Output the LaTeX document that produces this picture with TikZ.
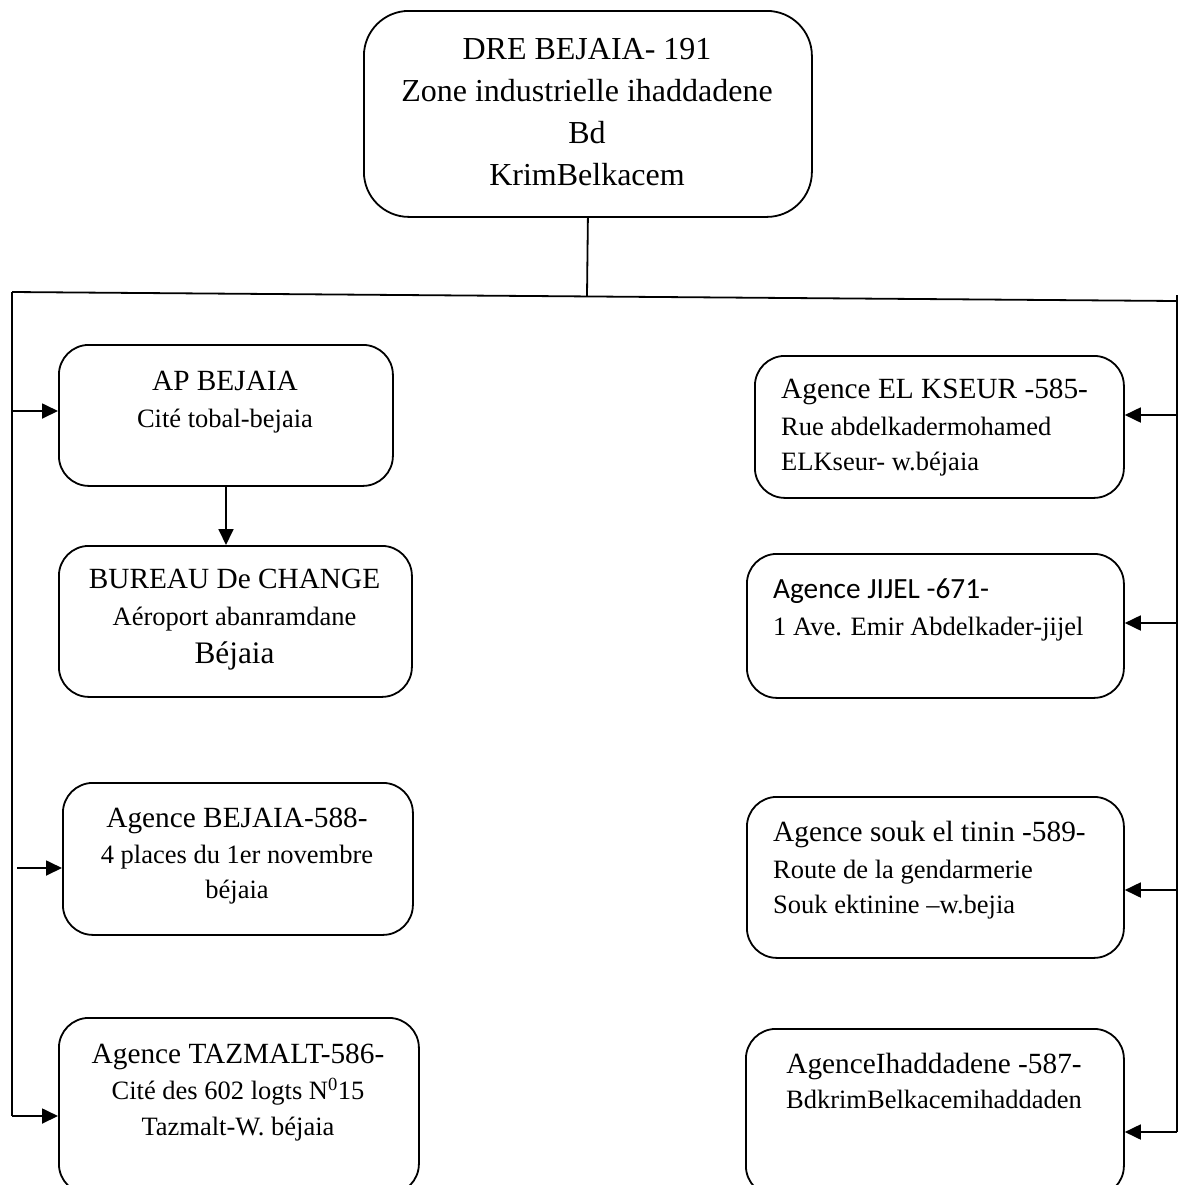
\documentclass[tikz,border=0pt]{standalone}
\usepackage{fontspec}
\setmainfont{Liberation Serif}
\newfontfamily\calibrifont{Carlito}
\usetikzlibrary{arrows.meta,calc}

\newcommand{\titlesize}{\fontsize{29.3bp}{36bp}\selectfont}
\newcommand{\subsize}{\fontsize{26.5bp}{36bp}\selectfont}
\newcommand{\bigsize}{\fontsize{31.3bp}{38bp}\selectfont}

\begin{document}
\begin{tikzpicture}[x=1bp,y=-1bp,
  card/.style={draw,line width=1.8bp,rounded corners=30bp,inner sep=0pt,anchor=north west},
  wire/.style={line width=1.8bp},
  feed/.style={line width=1.8bp,-{Triangle[length=16bp,width=15bp]}},
  txt/.style={inner sep=0pt,anchor=base}]
\useasboundingbox (0,0) rectangle (1186,1185);
\clip (0,0) rectangle (1186,1185);

% head office
\node[card,rounded corners=45bp,minimum width=448bp,minimum height=206bp] (top) at (363,10) {};
\node[txt] (topA) at (587,59) {\fontsize{32bp}{42bp}\selectfont DRE BEJAIA- 191};
\node[txt] (topB) at (587,101) {\fontsize{32bp}{42bp}\selectfont Zone industrielle ihaddadene};
\node[txt] (topC) at (587,143) {\fontsize{32bp}{42bp}\selectfont Bd};
\node[txt] (topD) at (587,185) {\fontsize{32bp}{42bp}\selectfont KrimBelkacem};

% left column
\node[card,minimum width=334bp,minimum height=141bp] (ap) at (58,344) {};
\node[txt] (apA) at (225,390) {\titlesize AP BEJAIA};
\node[txt] (apB) at (225,427) {\subsize Cité tobal-bejaia};

\node[card,minimum width=353bp,minimum height=151bp] (bur) at (58,545) {};
\node[txt] (burA) at (234.5,588) {\titlesize BUREAU De CHANGE};
\node[txt] (burB) at (234.5,625) {\subsize Aéroport abanramdane};
\node[txt] (burC) at (234.5,663) {\bigsize Béjaia};

\node[card,minimum width=350bp,minimum height=152bp] (bej) at (62,782) {};
\node[txt] (bejA) at (237,827) {\titlesize Agence BEJAIA-588-};
\node[txt] (bejB) at (237,863) {\subsize 4 places du 1er novembre};
\node[txt] (bejC) at (237,898) {\subsize béjaia};

\node[card,minimum width=360bp,minimum height=176bp] (taz) at (58,1017) {};
\node[txt] (tazA) at (238,1063) {\titlesize Agence TAZMALT-586-};
\node[txt] (tazB) at (238,1099) {\subsize Cité des 602 logts N\textsuperscript{0}15};
\node[txt] (tazC) at (238,1135) {\subsize Tazmalt-W. béjaia};

% right column
\node[card,minimum width=369bp,minimum height=142bp] (ksr) at (754,355) {};
\node[txt,anchor=base west] (ksrA) at (781,398) {\titlesize Agence EL KSEUR -585-};
\node[txt,anchor=base west] (ksrB) at (781,435) {\subsize Rue abdelkadermohamed};
\node[txt,anchor=base west] (ksrC) at (781,470) {\subsize ELKseur- w.béjaia};

\node[card,minimum width=377bp,minimum height=144bp] (jij) at (746,553) {};
\node[txt,anchor=base west] (jijA) at (773,598) {\calibrifont\titlesize Agence JIJEL -671-};
\node[txt,anchor=base west] (jijB) at (773,635) {\subsize 1 Ave. Emir Abdelkader-jijel};

\node[card,minimum width=377bp,minimum height=161bp] (souk) at (746,796) {};
\node[txt,anchor=base west] (soukA) at (773,841) {\titlesize Agence souk el tinin -589-};
\node[txt,anchor=base west] (soukB) at (773,878) {\subsize Route de la gendarmerie};
\node[txt,anchor=base west] (soukC) at (773,913) {\subsize Souk ektinine –w.bejia};

\node[card,minimum width=378bp,minimum height=167bp] (ihd) at (745,1028) {};
\node[txt] (ihdA) at (934,1073) {\titlesize AgenceIhaddadene -587-};
\node[txt] (ihdB) at (934,1108) {\subsize BdkrimBelkacemihaddaden};

% distribution bus
\coordinate (busL) at (12,292);
\coordinate (busR) at (1177,301);
\coordinate (busM) at (587,296);
\coordinate (leftEnd) at (12,1116);
\coordinate (rightTop) at (1177,295);
\coordinate (rightEnd) at (1177,1132);

\draw[wire] (top.south) -- (busM);
\draw[wire] (busL) -- (busR);
\draw[wire] (busL) -- (leftEnd);
\draw[wire] (rightTop) -- (rightEnd);

% feeders, left side
\draw[feed] (12,411) -- (ap.west |- 0,411);
\draw[feed] (17,868) -- (bej.west |- 0,868);
\draw[feed] (leftEnd) -- (taz.west |- leftEnd);
\draw[feed] (ap.south -| 226,0) -- (bur.north -| 226,0);

% feeders, right side
\draw[feed] (1177,415) -- (ksr.east |- 0,415);
\draw[feed] (1177,623) -- (jij.east |- 0,623);
\draw[feed] (1177,890) -- (souk.east |- 0,890);
\draw[feed] (rightEnd) -- (ihd.east |- rightEnd);
\end{tikzpicture}
\end{document}
